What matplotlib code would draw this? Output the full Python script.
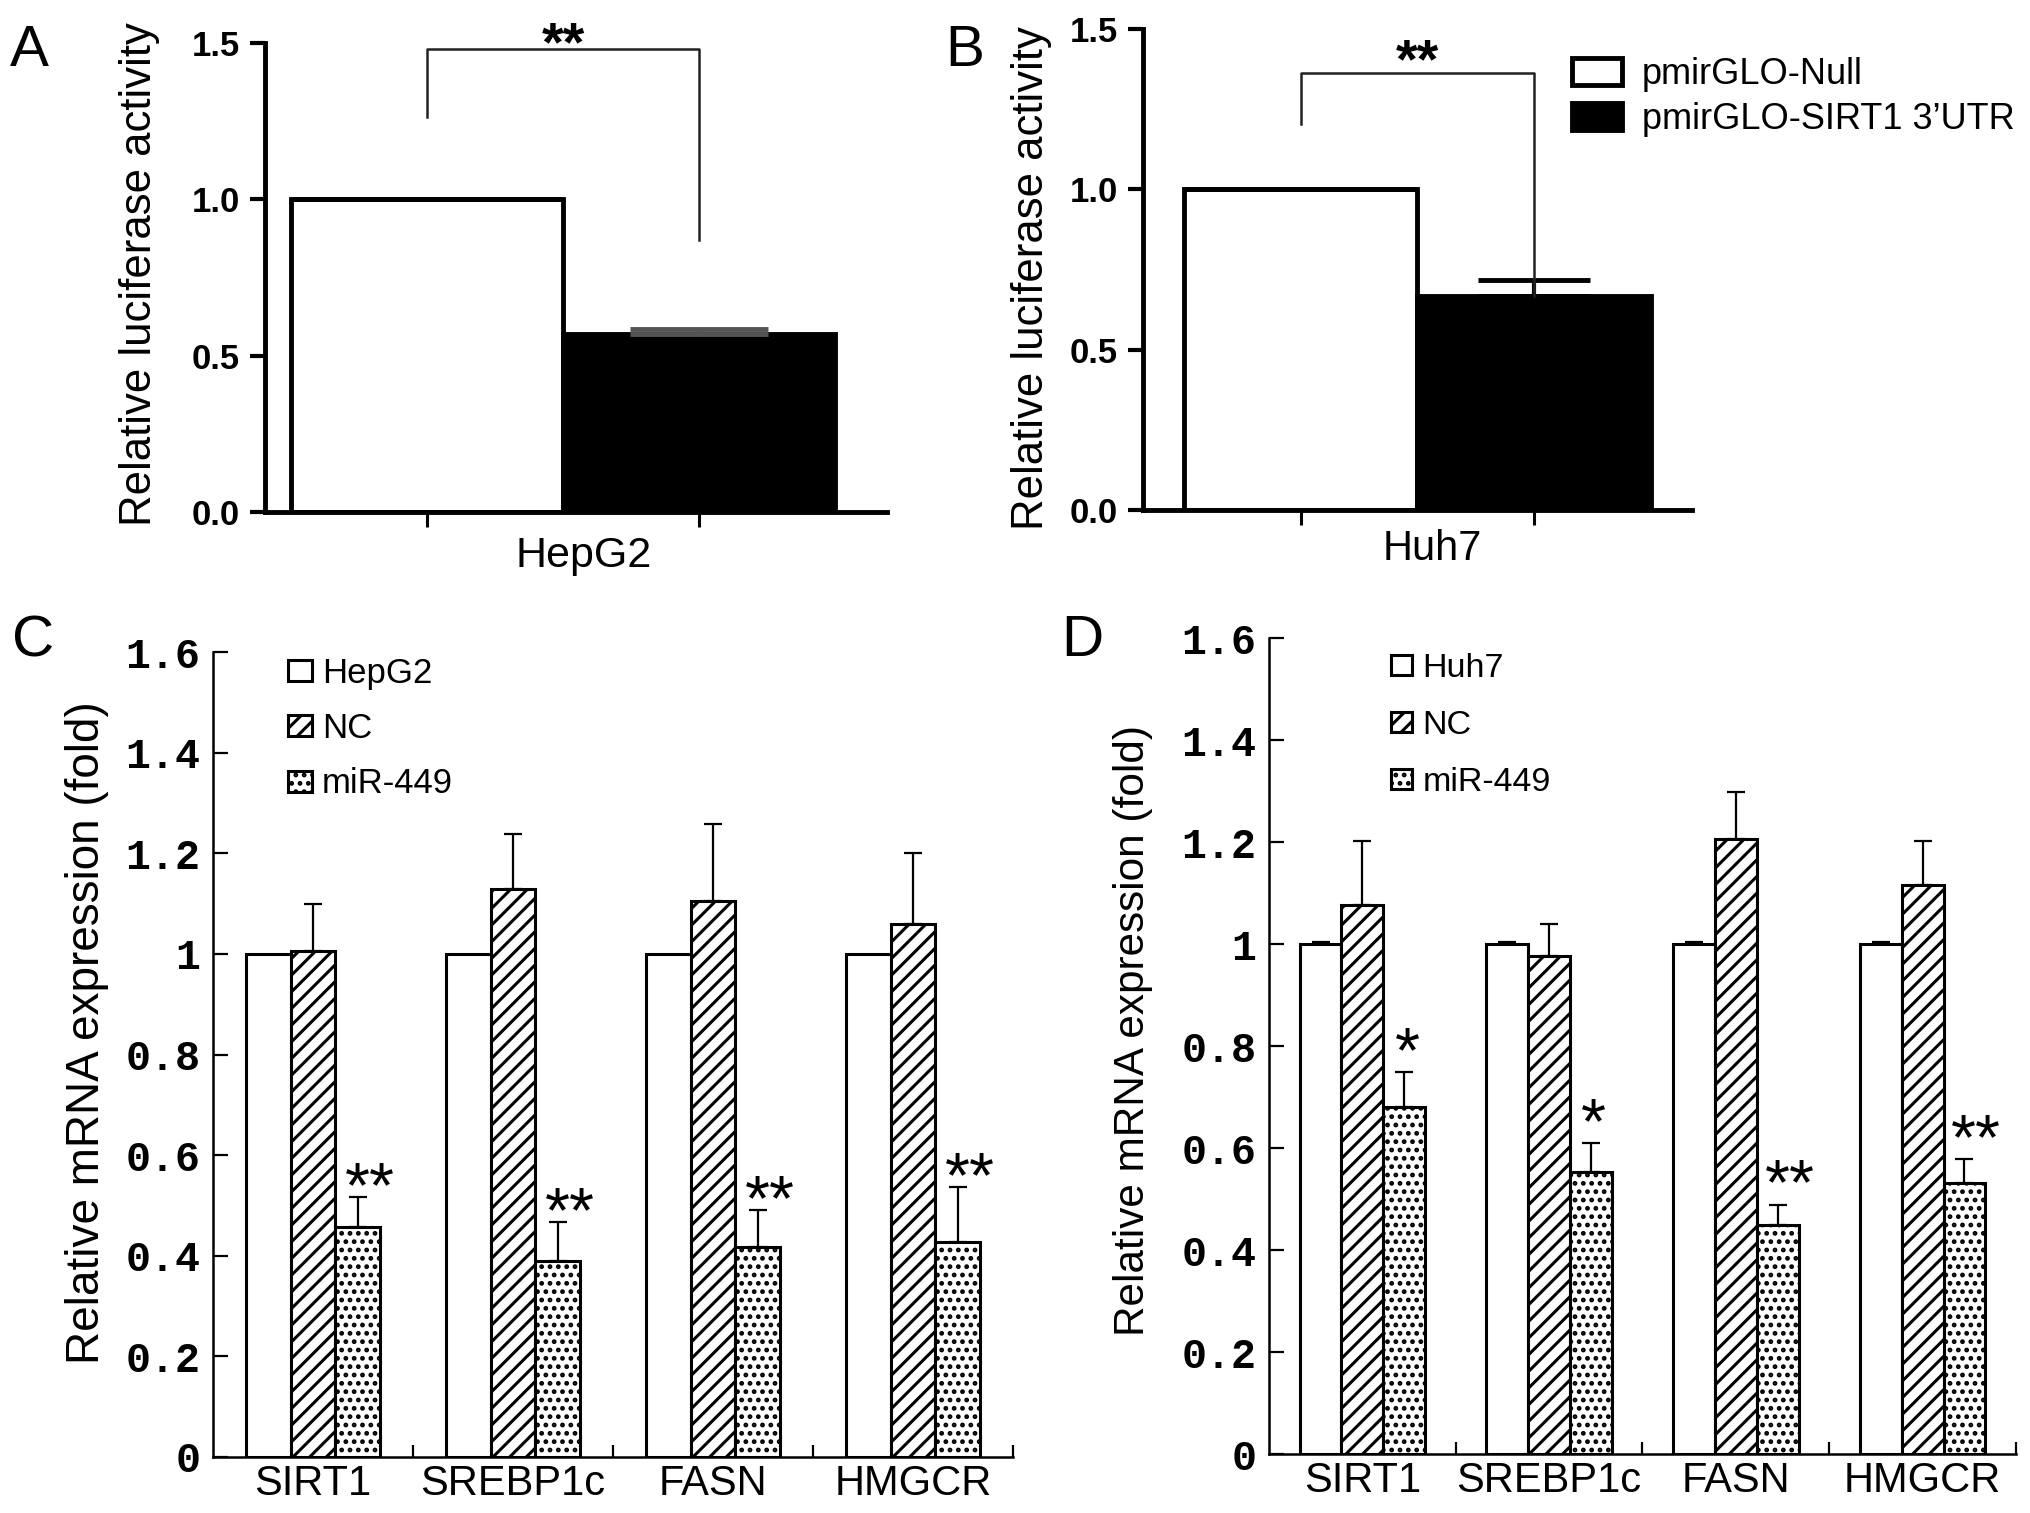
import numpy as np
import matplotlib
matplotlib.use('Agg')
import matplotlib.pyplot as plt
import matplotlib.transforms as mtransforms

plt.rcParams['font.family'] = ['Liberation Sans', 'DejaVu Sans']
plt.rcParams['hatch.linewidth'] = 2.2

# luciferase reporter (panels A and B)
luc_names = ['pmirGLO-Null', 'pmirGLO-SIRT1 3\u2019UTR']
hepg2_luc = [1.0, 0.568]
hepg2_luc_err = [0.0, 0.017]
huh7_luc = [1.0, 0.666]
huh7_luc_err = [0.0, 0.050]
# bracket: left leg bottom, top, right leg bottom
hepg2_bracket = [1.263, 1.481, 0.871]
huh7_bracket = [1.204, 1.362, 0.666]
luc_yticks = [0.0, 0.5, 1.0, 1.5]
luc_yticklabels = ['0.0', '0.5', '1.0', '1.5']

# mRNA expression (panels C and D)
genes = ['SIRT1', 'SREBP1c', 'FASN', 'HMGCR']
series_names = ['NC', 'miR-449']

hepg2_ctrl = [1.0, 1.0, 1.0, 1.0]
hepg2_ctrl_err = [0.0, 0.0, 0.0, 0.0]
hepg2_nc = [1.005, 1.128, 1.105, 1.059]
hepg2_nc_err = [0.095, 0.110, 0.154, 0.141]
hepg2_mir = [0.458, 0.390, 0.417, 0.427]
hepg2_mir_err = [0.058, 0.077, 0.073, 0.109]
hepg2_sig = ['**', '**', '**', '**']

huh7_ctrl = [1.0, 1.0, 1.0, 1.0]
huh7_ctrl_err = [0.004, 0.004, 0.004, 0.004]
huh7_nc = [1.076, 0.977, 1.205, 1.116]
huh7_nc_err = [0.125, 0.063, 0.093, 0.085]
huh7_mir = [0.680, 0.552, 0.449, 0.531]
huh7_mir_err = [0.069, 0.057, 0.040, 0.047]
huh7_sig = ['*', '*', '**', '**']

expr_yticks = [0, 0.2, 0.4, 0.6, 0.8, 1.0, 1.2, 1.4, 1.6]
expr_yticklabels = ['0', '0.2', '0.4', '0.6', '0.8', '1', '1.2', '1.4', '1.6']

W, H = 2031, 1513
fig = plt.figure(figsize=(W / 100, H / 100), dpi=100)


def box(x0, x1, ytop, ybot):
    # pixel box -> figure fraction
    return [x0 / W, 1 - ybot / H, (x1 - x0) / W, (ybot - ytop) / H]


def draw_luc(ax, vals, errs, bracket, xlim, caps, errcolor):
    x = np.arange(len(vals))
    ax.bar(x[0], vals[0], width=1.0, color='white', edgecolor='black',
           linewidth=3.5, label=luc_names[0], zorder=2)
    ax.bar(x[1], vals[1], width=1.0, color='black', edgecolor='black',
           linewidth=3.5, label=luc_names[1], zorder=2)
    for i in range(len(vals)):
        ax.errorbar(x[i], vals[i], yerr=[[0], [errs[i]]], fmt='none',
                    ecolor='black' if i == 0 else errcolor, elinewidth=3,
                    capsize=caps[i], capthick=3.5, zorder=3)
    # significance bracket
    ax.plot([x[0], x[0], x[1], x[1]],
            [bracket[0], bracket[1], bracket[1], bracket[2]],
            color='#222222', linewidth=1.8, clip_on=False, zorder=4)
    ax.set_xlim(*xlim)
    ax.set_ylim(0, 1.5)
    ax.set_xticks(x)
    ax.set_xticklabels([])
    ax.set_yticks(luc_yticks)
    ax.set_yticklabels(luc_yticklabels, fontweight='bold', fontsize=25)
    ax.tick_params(axis='x', length=11, width=2.2, direction='out')
    ax.tick_params(axis='y', length=11, width=3, direction='out', pad=7)
    for s in ['top', 'right']:
        ax.spines[s].set_visible(False)
    for s in ['left', 'bottom']:
        ax.spines[s].set_linewidth(3.5)
    return x


def draw_expr(ax, ctrl_name, ctrl, ctrl_err, nc, nc_err, mir, mir_err, sig,
              star_off, label_shift):
    n = len(genes)
    centers = np.arange(n) + 0.5
    w = 0.224
    ax.bar(centers - w, ctrl, w, color='white', edgecolor='black',
           linewidth=2.2, label=ctrl_name, zorder=2)
    ax.bar(centers, nc, w, color='white', edgecolor='black', hatch='//',
           linewidth=2.2, label=series_names[0], zorder=2)
    ax.bar(centers + w, mir, w, color='white', edgecolor='black', hatch='..',
           linewidth=2.2, label=series_names[1], zorder=2)
    for xs, v, e in [(centers - w, ctrl, ctrl_err), (centers, nc, nc_err),
                     (centers + w, mir, mir_err)]:
        if max(e) > 0:
            ax.errorbar(xs, v, yerr=[np.zeros(n), e], fmt='none',
                        ecolor='black', elinewidth=1.6, capsize=6.5,
                        capthick=1.6, zorder=3)
    for i in range(n):
        dx = 8.5 if len(sig[i]) > 1 else 2
        ax.annotate(sig[i], xy=(centers[i] + w, mir[i] + mir_err[i]),
                    xytext=(dx, star_off), textcoords='offset points',
                    ha='center', va='baseline', fontsize=46)
    ax.set_xlim(0, n)
    ax.set_ylim(0, 1.6)
    ax.set_xticks(centers)
    ax.set_xticklabels(genes, fontsize=30)
    for lbl, sh in zip(ax.get_xticklabels(), label_shift):
        lbl.set_transform(lbl.get_transform() + mtransforms.ScaledTranslation(
            sh / 100, 0, fig.dpi_scale_trans))
    ax.set_xticks(np.arange(1, n + 1), minor=True)
    ax.tick_params(axis='x', which='major', length=0, pad=5)
    ax.tick_params(axis='x', which='minor', length=9, width=1.6,
                   direction='in')
    ax.set_yticks(expr_yticks)
    ax.set_yticklabels(expr_yticklabels, family='Liberation Mono',
                       fontweight='bold', fontsize=30)
    ax.tick_params(axis='y', length=11, width=1.6, direction='in', pad=9)
    for s in ['top', 'right']:
        ax.spines[s].set_visible(False)
    for s in ['left', 'bottom']:
        ax.spines[s].set_linewidth(1.8)


axA = fig.add_axes(box(265, 887, 43, 512))
axB = fig.add_axes(box(1143, 1692, 29, 510))
axC = fig.add_axes(box(213, 1013, 652, 1457))
axD = fig.add_axes(box(1269, 2016, 638, 1454))

xa = draw_luc(axA, hepg2_luc, hepg2_luc_err, hepg2_bracket, (-0.596, 1.691),
              [97, 50], '#555555')
axA.text(0.5, 1.49, '**', ha='center', va='center', fontsize=40,
         fontweight='bold')
xb = draw_luc(axB, huh7_luc, huh7_luc_err, huh7_bracket, (-0.675, 1.677),
              [83, 40], 'black')
axB.text(0.5, 1.394, '**', ha='center', va='center', fontsize=40,
         fontweight='bold')
axB.legend(loc='upper left', bbox_to_anchor=(1572 / W, 1 - 57 / H),
           bbox_transform=fig.transFigure, frameon=False, fontsize=26,
           handlelength=1.39, handleheight=0.78, handletextpad=0.55,
           labelspacing=0.28, borderpad=0, borderaxespad=0)

draw_expr(axC, 'HepG2', hepg2_ctrl, hepg2_ctrl_err, hepg2_nc, hepg2_nc_err,
          hepg2_mir, hepg2_mir_err, hepg2_sig, -7, [5, 9, -8, 3])
draw_expr(axD, 'Huh7', huh7_ctrl, huh7_ctrl_err, huh7_nc, huh7_nc_err,
          huh7_mir, huh7_mir_err, huh7_sig, 0, [-27, -2, -4, 9])
axC.legend(loc='upper left', bbox_to_anchor=(288 / W, 1 - 657 / H),
           bbox_transform=fig.transFigure, frameon=False, fontsize=25,
           handlelength=0.69, handleheight=0.55, handletextpad=0.29,
           labelspacing=0.64, borderpad=0, borderaxespad=0)
axD.legend(loc='upper left', bbox_to_anchor=(1391 / W, 1 - 653 / H),
           bbox_transform=fig.transFigure, frameon=False, fontsize=24.5,
           handlelength=0.62, handleheight=0.53, handletextpad=0.3,
           labelspacing=0.76, borderpad=0, borderaxespad=0)

# axis titles
fig.text(139 / W, 1 - 274 / H, 'Relative luciferase activity', rotation=90,
         ha='center', va='center', fontsize=31.5)
fig.text(1032 / W, 1 - 278 / H, 'Relative luciferase activity', rotation=90,
         ha='center', va='center', fontsize=31.5)
fig.text(584 / W, 1 - 556 / H, 'HepG2', ha='center', va='center', fontsize=31)
fig.text(1432 / W, 1 - 549 / H, 'Huh7', ha='center', va='center', fontsize=30)
fig.text(87 / W, 1 - 1033 / H, 'Relative mRNA expression (fold)',
         rotation=90, ha='center', va='center', fontsize=33)
fig.text(1133 / W, 1 - 1031 / H, 'Relative mRNA expression (fold)',
         rotation=90, ha='center', va='center', fontsize=30.4)

# panel letters
for letter, px, py in [('A', 10, 24), ('B', 945, 24), ('C', 12, 614),
                       ('D', 1061, 614)]:
    fig.text(px / W, 1 - py / H, letter, ha='left', va='top', fontsize=42)

fig.savefig('out.png', dpi=100)
